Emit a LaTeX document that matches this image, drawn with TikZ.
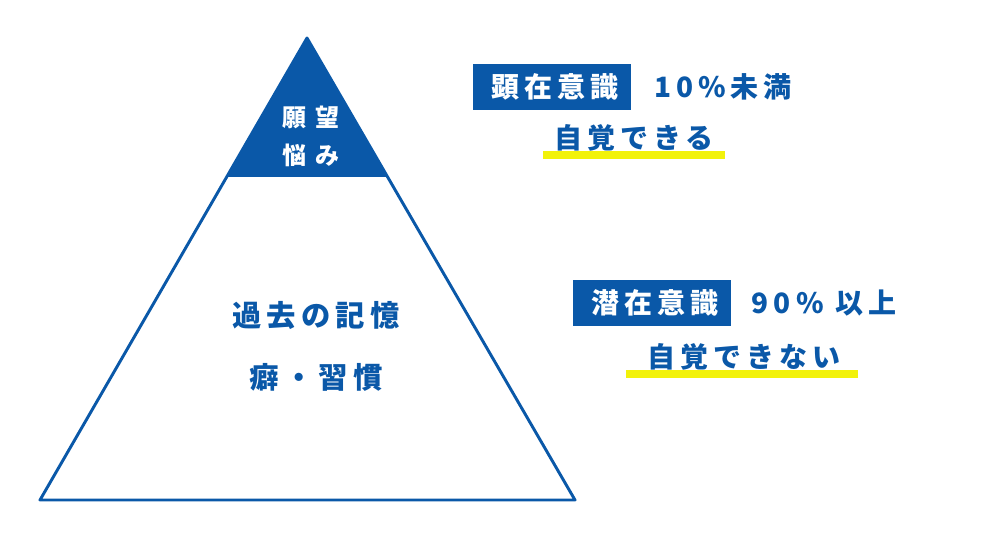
\documentclass[tikz,border=0pt]{standalone}
\usepackage{fontspec}
\newfontfamily\jp[LetterSpace=18]{Noto Sans CJK JP}
\newfontfamily\jpt[LetterSpace=35]{Noto Sans CJK JP}
\definecolor{bl}{HTML}{0A58A8}
\definecolor{yl}{HTML}{F2F20A}
\tikzset{lab/.style={font=\jp\bfseries\fontsize{21}{24}\selectfont,text=bl,inner sep=0pt},
 wl/.style={lab,text=white},
 big/.style={lab,font=\jp\bfseries\fontsize{22}{24}\selectfont},
 top/.style={wl,font=\jpt\bfseries\fontsize{18}{20}\selectfont},
 box/.style={fill=bl,minimum width=118pt,minimum height=35pt,inner sep=0pt}}
\begin{document}
\begin{tikzpicture}[x=0.75pt,y=-0.75pt]
\useasboundingbox (0,0) rectangle (1000,544);
\fill[bl] (307,38) -- (227,176) -- (387,176) -- cycle;
\draw[bl,line width=2.2pt,line join=round] (307,38) -- (40,500) -- (575,500) -- cycle;
\draw[bl,line width=2.2pt] (227,176) -- (387,176);
\node[top] (a) at (311,117) {願望};
\node[top] (b) at (311,155) {悩み};
\node[big] (c) at (316,315) {過去の記憶};
\node[big] (d) at (316,377) {癖・習慣};
\node[box] (k1) at (552,87) {};
\node[wl] at ([xshift=2pt]k1) {顕在意識};
\node[lab] (p1) at (723,87) {10\%未満};
\fill[yl] (543,151) rectangle (725,159);
\node[lab] (t1) at (634,138) {自覚できる};
\node[box] (k2) at (652,303) {};
\node[wl] at ([xshift=2pt]k2) {潜在意識};
\node[lab] (p2) at (824,303) {90\% 以上};
\fill[yl] (626,370) rectangle (858,378);
\node[lab] (t2) at (744,357) {自覚できない};
\end{tikzpicture}
\end{document}
